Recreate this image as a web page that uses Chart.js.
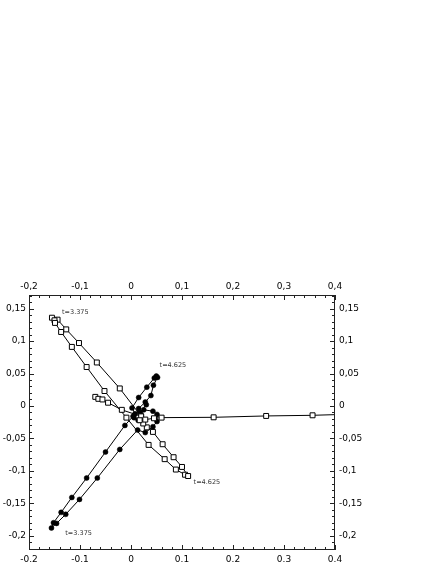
<!DOCTYPE html>
<html><head><meta charset="utf-8">
<script src="https://cdn.jsdelivr.net/npm/chart.js@4"></script>
<style>html,body{margin:0;padding:0;background:#fff}canvas{display:block}</style>
</head><body>
<canvas id="c" width="436" height="564"></canvas>
<script>
// ---- data ----
const xTicks = [-0.2, -0.1, 0, 0.1, 0.2, 0.3, 0.4];
const yTicks = [-0.2, -0.15, -0.1, -0.05, 0, 0.05, 0.1, 0.15];

const squareX = [-0.070, -0.064, -0.056, -0.045, -0.018, 0.020, -0.022, -0.067, -0.102, -0.127, -0.144, -0.155, -0.150, -0.149, -0.137, -0.116, -0.087, -0.052, -0.009, 0.0345, 0.066, 0.088, 0.106, 0.112, 0.100, 0.0835, 0.062, 0.043, 0.031, 0.024, 0.017, 0.028, 0.045, 0.060, 0.162, 0.265, 0.356, 0.44];
const squareY = [0.014, 0.011, 0.010, 0.005, -0.006, -0.016, 0.027, 0.067, 0.097, 0.118, 0.133, 0.136, 0.132, 0.128, 0.114, 0.091, 0.060, 0.023, -0.018, -0.060, -0.082, -0.098, -0.106, -0.108, -0.094, -0.079, -0.059, -0.040, -0.033, -0.027, -0.022, -0.021, -0.019, -0.018, -0.0175, -0.0154, -0.0144, -0.0125];

const circleX = [0.030, 0.018, 0.004, -0.012, -0.050, -0.087, -0.116, -0.137, -0.152, -0.156, -0.146, -0.128, -0.101, -0.066, -0.022, 0.013, 0.028, 0.043, 0.051, 0.051, 0.043, 0.025, 0.008, 0.002, 0.015, 0.031, 0.0457, 0.0496, 0.052, 0.044, 0.039, 0.028, 0.015, 0.006, 0.014, 0.020];
const circleY = [0.002, -0.010, -0.016, -0.030, -0.071, -0.111, -0.141, -0.164, -0.180, -0.188, -0.181, -0.167, -0.144, -0.111, -0.067, -0.037, -0.041, -0.032, -0.024, -0.013, -0.008, -0.006, -0.012, -0.003, 0.013, 0.029, 0.043, 0.046, 0.044, 0.032, 0.016, 0.006, -0.004, -0.018, -0.022, -0.014];

const noteText = ['t=3.375', 't=4.625', 't=4.625', 't=3.375'];
const noteX = [-0.1353, 0.0561, 0.1227, -0.1288];
const noteY = [0.1446, 0.0633, -0.1177, -0.1964];

// ---- helpers ----
const fmtDot = v => String(Math.round(v * 100) / 100);
const fmtComma = v => fmtDot(v).replace('.', ',');
const tickFont = { family: '"DejaVu Sans"', size: 9 };

function axis(pos, ticksArr, fmt, min, max, size, pad) {
  const isX = pos === 'top' || pos === 'bottom';
  return {
    type: 'linear', position: pos, min: min, max: max,
    grid: { display: false, drawTicks: false },
    border: { display: false },
    ticks: { font: tickFont, color: '#000', padding: pad, maxRotation: 0, autoSkip: false,
             callback: v => fmt(v) },
    afterBuildTicks: s => { s.ticks = ticksArr.map(v => ({ value: v })); },
    afterFit: s => { if (isX) s.height = size; else s.width = size; }
  };
}

const framePlugin = {
  id: 'frame',
  afterDatasetsDraw(chart) {
    const { ctx, chartArea: a, scales } = chart;
    const xs = scales.x, ys = scales.y;
    ctx.save();
    ctx.strokeStyle = '#222';
    ctx.lineWidth = 1;
    ctx.beginPath();
    for (let i = -10; i <= 20; i++) {
      const px = Math.round(xs.getPixelForValue(i * 0.02)) + 0.5;
      const len = i % 5 === 0 ? 5 : 3;
      ctx.moveTo(px, a.top); ctx.lineTo(px, a.top + len);
      ctx.moveTo(px, a.bottom); ctx.lineTo(px, a.bottom - len);
    }
    for (let i = -22; i <= 17; i++) {
      const v = i * 0.01;
      if (v < ys.min || v > ys.max) continue;
      const py = Math.round(ys.getPixelForValue(v)) + 0.5;
      const len = i % 5 === 0 ? 5 : 3;
      ctx.moveTo(a.left, py); ctx.lineTo(a.left + len, py);
      ctx.moveTo(a.right, py); ctx.lineTo(a.right - len, py);
    }
    ctx.stroke();
    ctx.strokeRect(Math.round(a.left) + 0.5, Math.round(a.top) + 0.5,
                   Math.round(a.right - a.left) - 1, Math.round(a.bottom - a.top) - 1);
    ctx.fillStyle = '#333';
    ctx.font = '6.5px "DejaVu Sans"';
    ctx.textAlign = 'left';
    ctx.textBaseline = 'middle';
    noteText.forEach((t, i) => {
      ctx.fillText(t, xs.getPixelForValue(noteX[i]), ys.getPixelForValue(noteY[i]));
    });
    ctx.restore();
  }
};

const toPts = (xa, ya) => xa.map((x, i) => ({ x: x, y: ya[i] }));

new Chart(document.getElementById('c'), {
  type: 'scatter',
  data: {
    datasets: [
      { label: 'squares', data: toPts(squareX, squareY), showLine: true,
        borderColor: '#000', borderWidth: 1, pointStyle: 'rect', pointRadius: 3.5,
        pointBackgroundColor: '#fff', pointBorderColor: '#000', pointBorderWidth: 1, clip: 0 },
      { label: 'circles', data: toPts(circleX, circleY), showLine: true,
        borderColor: '#000', borderWidth: 1, pointStyle: 'circle', pointRadius: 2.5,
        pointBackgroundColor: '#000', pointBorderColor: '#000', pointBorderWidth: 0.5, clip: 0 }
    ]
  },
  options: {
    responsive: false, animation: false, devicePixelRatio: 1,
    layout: { padding: { top: 277, right: 61, bottom: 0, left: 0 } },
    plugins: { legend: { display: false }, tooltip: { enabled: false } },
    elements: { line: { tension: 0 } },
    scales: {
      x: axis('bottom', xTicks, fmtDot, -0.2, 0.4, 14, 4),
      x2: axis('top', xTicks, fmtComma, -0.2, 0.4, 18, 3),
      y: axis('left', yTicks, fmtComma, -0.222, 0.171, 29, 3),
      y2: axis('right', yTicks, fmtComma, -0.222, 0.171, 40, 4)
    }
  },
  plugins: [framePlugin]
});
</script>
</body></html>
